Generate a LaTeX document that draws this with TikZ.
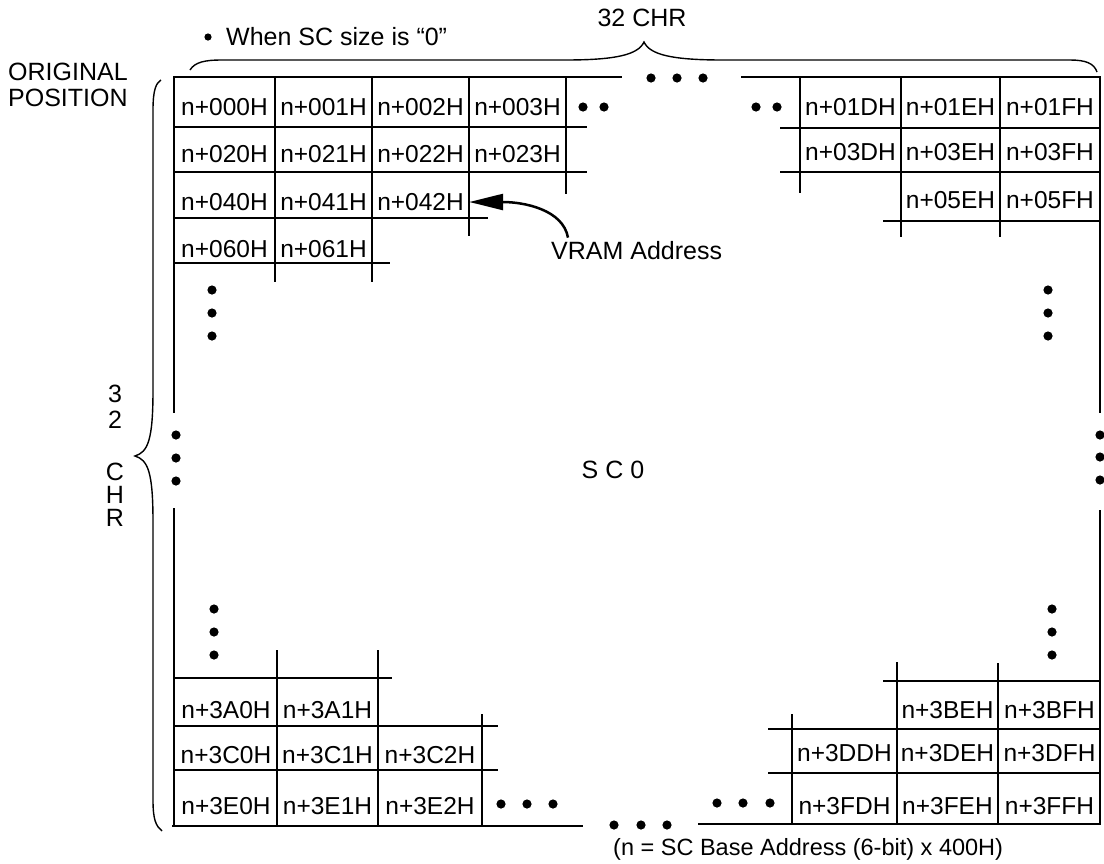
\documentclass[tikz,border=0pt]{standalone}
\usepackage{fontspec}
\setmainfont{Liberation Sans}
\usetikzlibrary{arrows.meta}
\begin{document}
\begin{tikzpicture}[x=1pt,y=-1pt,
  grid/.style={line width=2.5pt, line cap=butt},
  brc/.style={line width=1.4pt},
  cell/.style={font=\fontsize{24.5}{27}\selectfont, inner sep=0pt, minimum width=97pt, minimum height=40pt},
  lbl/.style={font=\fontsize{25}{29}\selectfont, inner sep=0pt},
  bigdot/.style={fill=black}]
\path[use as bounding box] (0,0) rectangle (1104,863);

% ---------- top-left block ----------
\draw[grid] (174,77) -- (622,77);
\draw[grid] (741,77) -- (1101,77);
\draw[grid] (174,127) -- (587,127);
\draw[grid] (174,172) -- (587,172);
\draw[grid] (174,218) -- (488,218);
\draw[grid] (174,263) -- (390,263);
\draw[grid] (275,77) -- (275,282);
\draw[grid] (372,77) -- (372,282);
\draw[grid] (469,77) -- (469,236);
\draw[grid] (566,77) -- (566,194);
% left / right edges
\draw[grid] (174,76) -- (174,413);
\draw[grid] (174,508) -- (174,827);
\draw[grid] (1100,76) -- (1100,413);
\draw[grid] (1100,510) -- (1100,825);
% ---------- top-right block ----------
\draw[grid] (780,128) -- (1101,128);
\draw[grid] (780,172) -- (1101,172);
\draw[grid] (883,221) -- (1101,221);
\draw[grid] (800,77) -- (800,193);
\draw[grid] (901,77) -- (901,237);
\draw[grid] (1000,77) -- (1000,237);
% ---------- bottom-left block ----------
\draw[grid] (174,678) -- (392,678);
\draw[grid] (174,726) -- (498,726);
\draw[grid] (174,770) -- (498,770);
\draw[grid] (172,826) -- (583,826);
\draw[grid] (277,650) -- (277,826);
\draw[grid] (378,650) -- (378,826);
\draw[grid] (482,714) -- (482,826);
% ---------- bottom-right block ----------
\draw[grid] (883,681) -- (1101,681);
\draw[grid] (768,729) -- (1101,729);
\draw[grid] (768,773) -- (1101,773);
\draw[grid] (698,824) -- (1101,824);
\draw[grid] (792,714) -- (792,824);
\draw[grid] (897,662) -- (897,824);
\draw[grid] (998,663) -- (998,824);

% ---------- cells ----------
\node[cell] (c000) at (224.5,107) {n+000H};
\node[cell] (c001) at (323.5,107) {n+001H};
\node[cell] (c002) at (420.5,107) {n+002H};
\node[cell] (c003) at (517.5,107) {n+003H};
\node[cell] (c020) at (224.5,154) {n+020H};
\node[cell] (c021) at (323.5,154) {n+021H};
\node[cell] (c022) at (420.5,154) {n+022H};
\node[cell] (c023) at (517.5,154) {n+023H};
\node[cell] (c040) at (224.5,202) {n+040H};
\node[cell] (c041) at (323.5,202) {n+041H};
\node[cell] (c042) at (420.5,202) {n+042H};
\node[cell] (c060) at (224.5,249) {n+060H};
\node[cell] (c061) at (323.5,249) {n+061H};

\node[cell] (c01D) at (850.5,107) {n+01DH};
\node[cell] (c01E) at (950.5,107) {n+01EH};
\node[cell] (c01F) at (1050,107) {n+01FH};
\node[cell] (c03D) at (850.5,152) {n+03DH};
\node[cell] (c03E) at (950.5,152) {n+03EH};
\node[cell] (c03F) at (1050,152) {n+03FH};
\node[cell] (c05E) at (950.5,200) {n+05EH};
\node[cell] (c05F) at (1050,200) {n+05FH};

\node[cell] (c3A0) at (226,710) {n+3A0H};
\node[cell] (c3A1) at (327.5,710) {n+3A1H};
\node[cell] (c3C0) at (226,755) {n+3C0H};
\node[cell] (c3C1) at (327.5,755) {n+3C1H};
\node[cell] (c3C2) at (430,755) {n+3C2H};
\node[cell] (c3E0) at (226,806) {n+3E0H};
\node[cell] (c3E1) at (327.5,806) {n+3E1H};
\node[cell] (c3E2) at (430,806) {n+3E2H};

\node[cell] (c3BE) at (947.5,710) {n+3BEH};
\node[cell] (c3BF) at (1049.5,710) {n+3BFH};
\node[cell] (c3DD) at (844.5,753) {n+3DDH};
\node[cell] (c3DE) at (947.5,753) {n+3DEH};
\node[cell] (c3DF) at (1049.5,753) {n+3DFH};
\node[cell] (c3FD) at (844.5,806) {n+3FDH};
\node[cell] (c3FE) at (947.5,806) {n+3FEH};
\node[cell] (c3FF) at (1049.5,806) {n+3FFH};

% ---------- dots ----------
\foreach \p in {(651,78),(677,78),(703,78),
  (583,107),(604,107),(756,107),(777,107),
  (212,290),(212,313),(212,336),
  (176,435),(176,458),(176,481),
  (214,609),(214,632),(214,655),
  (1048,290),(1048,313),(1048,336),
  (1100,435),(1100,457),(1100,480),
  (1052,609),(1052,632),(1052,655),
  (501,804),(527,804),(553,804),
  (717,803),(743,803),(770,803),
  (614,825),(641,825),(667,825)}
  \fill[bigdot] \p circle[radius=4.6pt];
\fill[bigdot] (208,37) circle[radius=3.6pt];

% ---------- braces ----------
\draw[brc] (190,70) .. controls (195,62) and (205,60) .. (222,60) -- (565,60)
  .. controls (615,60) and (638,55) .. (644,42)
  .. controls (650,55) and (673,60) .. (723,60) -- (1070,60)
  .. controls (1085,60) and (1094,63) .. (1097,72);
\draw[brc] (161,80) .. controls (156,83) and (153,90) .. (153,110) -- (153,390)
  .. controls (153,440) and (148,452) .. (135,456)
  .. controls (148,460) and (153,472) .. (153,522) -- (153,800)
  .. controls (153,820) and (156,826) .. (162,831);

% ---------- labels ----------
\node[lbl, anchor=west] (orig1) at (8,72) {ORIGINAL};
\node[lbl, anchor=west] (orig2) at (8,98) {POSITION};
\node[lbl, anchor=west] (when) at (226,37) {When SC size is “0”};
\node[lbl] (chr) at (642,18) {32 CHR};
\node[lbl] (sc0) at (613,470) {S C 0};
\node[lbl] (v3) at (115,394) {3};
\node[lbl] (v2) at (115,420) {2};
\node[lbl] (vC) at (115,472) {C};
\node[lbl] (vH) at (115,495) {H};
\node[lbl] (vR) at (115,518) {R};
\node[lbl, anchor=west] (vram) at (551,251) {VRAM Address};
\node[lbl, anchor=west, font=\fontsize{23.5}{27}\selectfont] (note) at (613,849) {(n = SC Base Address (6-bit) x 400H)};

% ---------- arrow ----------
\draw[line width=2.5pt, -{Triangle[length=34pt,width=16pt]}]
  ([xshift=17pt,yshift=4pt]vram.north west) .. controls +(-5,-28) and +(55,0) .. (c042.east);
\end{tikzpicture}
\end{document}
